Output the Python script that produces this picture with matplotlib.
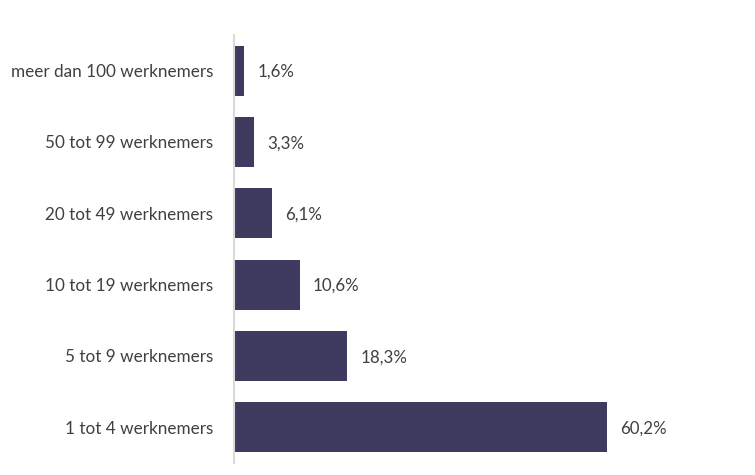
import matplotlib.pyplot as plt

categories = ['1 tot 4 werknemers', '5 tot 9 werknemers', '10 tot 19 werknemers',
              '20 tot 49 werknemers', '50 tot 99 werknemers', 'meer dan 100 werknemers']
values = [60.2, 18.3, 10.6, 6.1, 3.3, 1.6]
labels = ['60,2%', '18,3%', '10,6%', '6,1%', '3,3%', '1,6%']

plt.rcParams['font.family'] = ['Lato', 'DejaVu Sans']

fig = plt.figure(figsize=(7.55, 4.75), dpi=100)
ax = fig.add_axes([234 / 755, 12 / 475, (745 - 234) / 755, 428 / 475])

y = range(len(categories))
ax.barh(y, values, height=0.7, color='#3E3A60')
for i, v in enumerate(values):
    ax.annotate(labels[i], (v, i), xytext=(9.5, -1), textcoords='offset points',
                va='center', ha='left', fontsize=12.2, color='#404040')

ax.set_ylim(-0.5, len(categories) - 0.5)
ax.set_xlim(0, (745 - 234) / 6.196)
ax.set_yticks(list(y))
ax.set_yticklabels(categories, fontsize=12.3, color='#404040')
ax.tick_params(axis='y', length=0, pad=15)
ax.set_xticks([])
for s in ['top', 'right', 'bottom']:
    ax.spines[s].set_visible(False)
ax.spines['left'].set_color('#D9D9D9')
ax.spines['left'].set_linewidth(1.5)

fig.savefig('out.png', dpi=100)
